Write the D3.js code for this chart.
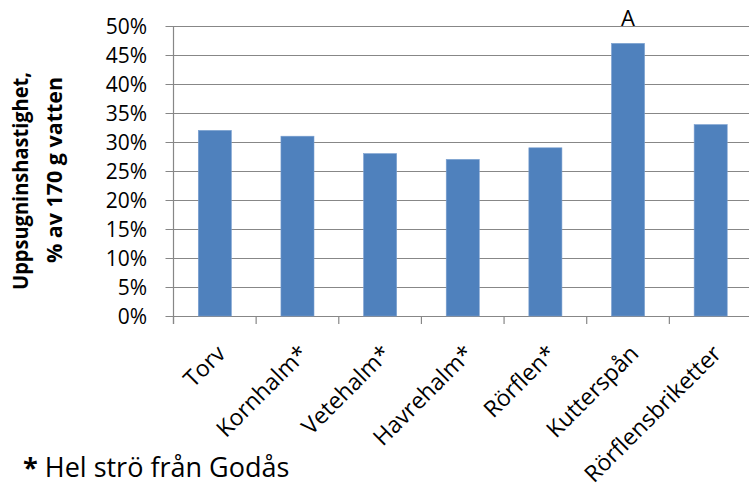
<!DOCTYPE html>
<html>
<head>
<meta charset="utf-8">
<script src="https://cdn.jsdelivr.net/npm/d3@7"></script>
<style>
  html, body { margin: 0; padding: 0; background: #fff; }
  svg { display: block; }
  text { font-family: "Open Sans", "Noto Sans", sans-serif; fill: #000; }
</style>
</head>
<body>
<svg id="chart" width="749" height="491"></svg>
<script>
// Uppsugningshastighet per strömaterial
const categories = ["Torv", "Kornhalm*", "Vetehalm*", "Havrehalm*", "Rörflen*", "Kutterspån", "Rörflensbriketter"];
const values = [0.32, 0.31, 0.28, 0.27, 0.29, 0.47, 0.33];
const barLabels = ["", "", "", "", "", "A", ""];
const yTicks = [0, 0.05, 0.10, 0.15, 0.20, 0.25, 0.30, 0.35, 0.40, 0.45, 0.50];
const yTitle = ["Uppsugninshastighet,", "% av 170 g vatten"];
const footnoteMark = "*";
const footnoteText = " Hel strö från Godås";

const svg = d3.select("#chart");
const plotLeft = 173.5, plotRight = 752, plotTop = 26, plotBottom = 316;

const x = d3.scaleBand().domain(categories).range([plotLeft, plotRight]).paddingInner(0.6).paddingOuter(0.3);
const y = d3.scaleLinear().domain([0, 0.5]).range([plotBottom, plotTop]);

// horizontal gridlines
svg.append("g").selectAll("line").data(yTicks).join("line")
  .attr("x1", plotLeft - 8).attr("x2", plotRight)
  .attr("y1", d => Math.round(y(d)) + 0.5).attr("y2", d => Math.round(y(d)) + 0.5)
  .attr("stroke", "#878787").attr("stroke-width", 1.2);

// y axis line
svg.append("line")
  .attr("x1", plotLeft).attr("x2", plotLeft).attr("y1", plotTop).attr("y2", plotBottom + 8)
  .attr("stroke", "#878787").attr("stroke-width", 1.2);

// category tick marks at band boundaries
const step = x.step();
const boundaries = d3.range(categories.length).map(i => plotLeft + i * step);
svg.append("g").selectAll("line").data(boundaries).join("line")
  .attr("x1", d => d).attr("x2", d => d)
  .attr("y1", plotBottom).attr("y2", plotBottom + 8)
  .attr("stroke", "#878787").attr("stroke-width", 1.2);

// y tick labels
const fmt = d3.format(".0%");
svg.append("g").selectAll("text").data(yTicks).join("text")
  .attr("x", 147).attr("y", d => y(d) + 7.5)
  .attr("text-anchor", "end")
  .attr("font-size", 21)
  .text(d => fmt(d));

// bars
svg.append("g").selectAll("rect").data(values).join("rect")
  .attr("x", (d, i) => x(categories[i]))
  .attr("y", d => y(d))
  .attr("width", x.bandwidth())
  .attr("height", d => plotBottom - y(d))
  .attr("fill", "#4f81bd")
  .attr("stroke", "#7a9fd0").attr("stroke-width", 0.6);

// bar annotations
svg.append("g").selectAll("text").data(values).join("text")
  .attr("x", (d, i) => x(categories[i]) + x.bandwidth() / 2)
  .attr("y", d => y(d) - 17.5)
  .attr("text-anchor", "middle")
  .attr("font-size", 22)
  .text((d, i) => barLabels[i]);

// rotated category labels
svg.append("g").selectAll("text").data(categories).join("text")
  .attr("transform", d => `translate(${x(d) + x.bandwidth() / 2 + 12},${plotBottom + 39}) rotate(-45)`)
  .attr("text-anchor", "end")
  .attr("font-size", 23)
  .text(d => d);

// y axis title (two lines, bold, rotated)
const titleCenters = [[28, 181], [62, 170]];
const titleLengths = [218, 186];
svg.append("g").selectAll("text").data(yTitle).join("text")
  .attr("transform", (d, i) => `translate(${titleCenters[i][0]},${titleCenters[i][1]}) rotate(-90)`)
  .attr("text-anchor", "middle")
  .attr("font-size", 22)
  .attr("font-weight", "bold")
  .attr("textLength", (d, i) => titleLengths[i])
  .attr("lengthAdjust", "spacingAndGlyphs")
  .text(d => d);

// footnote
const foot = svg.append("text").attr("x", 23).attr("y", 477).attr("font-size", 27);
foot.append("tspan").attr("font-weight", "bold").text(footnoteMark);
foot.append("tspan").text(footnoteText);
</script>
</body>
</html>
